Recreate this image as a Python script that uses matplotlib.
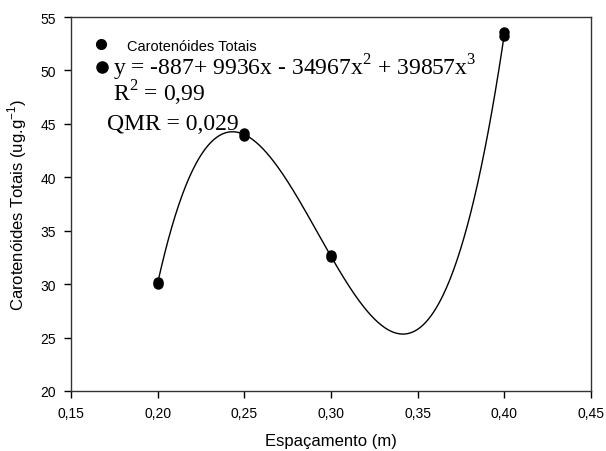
import numpy as np
import matplotlib
matplotlib.use("Agg")
import matplotlib.pyplot as plt
from matplotlib.ticker import FuncFormatter, MultipleLocator

# Data (replicates)
espacamento = [0.20, 0.20, 0.25, 0.25, 0.30, 0.30, 0.40, 0.40]
carotenoides = [30.0, 30.2, 43.9, 44.1, 32.5, 32.7, 53.2, 53.6]

series_label = "Carotenóides Totais"
equation = r"y = -887+ 9936x - 34967x$^2$ + 39857x$^3$"
r2_text = r"R$^2$ = 0,99"
qmr_text = "QMR = 0,029"

xlim = (0.15, 0.45)
ylim = (20, 55)

plt.rcParams['font.family'] = ['Liberation Sans', 'DejaVu Sans']
plt.rcParams['mathtext.fontset'] = 'custom'
plt.rcParams['mathtext.rm'] = 'Liberation Serif'

fig = plt.figure(figsize=(6.06, 4.52), dpi=100)
ax = fig.add_axes([71/606, 60/452, 520/606, 374/452])

# cubic regression curve
coef = np.polyfit(espacamento, carotenoides, 3)
xs = np.linspace(min(espacamento), max(espacamento), 300)
ax.plot(xs, np.polyval(coef, xs), color='black', lw=1.0, zorder=2)

ax.plot(espacamento, carotenoides, 'o', color='black', ms=6.5, zorder=3)

ax.set_xlim(*xlim)
ax.set_ylim(*ylim)
ax.xaxis.set_major_locator(MultipleLocator(0.05))
ax.yaxis.set_major_locator(MultipleLocator(5))
ax.xaxis.set_major_formatter(FuncFormatter(lambda v, p: f"{v:.2f}".replace('.', ',')))
ax.yaxis.set_major_formatter(FuncFormatter(lambda v, p: f"{v:.0f}"))
ax.tick_params(direction='out', length=5, width=1, labelsize=10, colors='black', pad=6)
ax.tick_params(top=False, right=False)
for s in ax.spines.values():
    s.set_linewidth(1.0)
    s.set_color('#333333')

ax.set_xlabel("Espaçamento (m)", fontsize=12, labelpad=9)
ax.set_ylabel(r"Carotenóides Totais (ug.g$^{\mathregular{-1}}$)", fontsize=12, labelpad=8)

# legend-like annotations
ax.plot([0.0577], [0.928], 'o', color='black', ms=7, transform=ax.transAxes, clip_on=False)
ax.text(0.1077, 0.913, series_label, transform=ax.transAxes, fontsize=10.5,
        va='baseline', ha='left')
ax.plot([0.0596], [0.866], 'o', color='black', ms=8, transform=ax.transAxes, clip_on=False)
ax.text(0.0814, 0.845, equation, transform=ax.transAxes, fontsize=17,
        va='baseline', ha='left', family='Liberation Serif')
ax.text(0.080, 0.777, r2_text, transform=ax.transAxes, fontsize=17,
        va='baseline', ha='left', family='Liberation Serif')
ax.text(0.0686, 0.701, qmr_text, transform=ax.transAxes, fontsize=17,
        va='baseline', ha='left', family='Liberation Serif')

fig.savefig("out.png", dpi=100)
